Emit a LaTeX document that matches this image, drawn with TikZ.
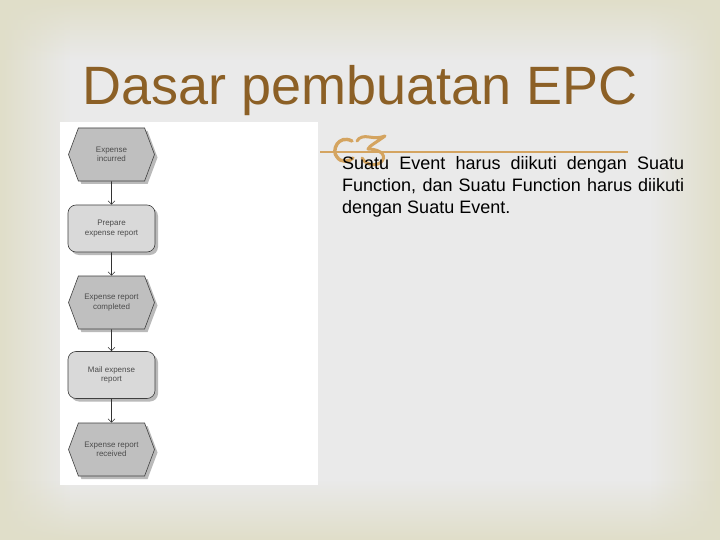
\documentclass[tikz,border=0pt]{standalone}
\usepackage{fontspec}
\setmainfont{Liberation Sans}
\usepackage{xcolor}
\usetikzlibrary{shapes.symbols,shadows,arrows.meta,fadings}
\definecolor{slidebeige}{RGB}{224,222,201}
\definecolor{slidegray}{RGB}{234,234,234}
\definecolor{titlebrown}{RGB}{140,96,38}
\definecolor{ornament}{RGB}{212,164,96}
\tikzfading[name=edgefade, left color=transparent!0, right color=transparent!100]
\tikzset{
  edgeband/.style={fill=slidebeige, path fading=edgefade},
  epcevent/.style={signal, signal to=west and east, signal pointer angle=139,
    draw=black!75, line width=0.6pt, fill=black!25, minimum width=86pt, minimum height=53pt,
    inner sep=0pt, align=center, font=\fontsize{8}{9.5}\selectfont, text=black!70,
    drop shadow={shadow xshift=3pt, shadow yshift=-3pt, fill=black!45, opacity=0.6}},
  epcfunc/.style={rectangle, rounded corners=8pt,
    draw=black!75, line width=0.6pt, fill=black!15, minimum width=87pt, minimum height=47pt,
    inner sep=0pt, align=center, font=\fontsize{8}{9.5}\selectfont, text=black!70,
    drop shadow={shadow xshift=3pt, shadow yshift=-3pt, fill=black!45, opacity=0.6}},
  flow/.style={draw=black!80, line width=0.6pt, -{Straight Barb[length=3.5pt,width=7pt]}}
}
\begin{document}
\begin{tikzpicture}[x=1pt,y=-1pt]
\useasboundingbox (0,0) rectangle (720,540);
% slide background
\fill[slidegray] (0,0) rectangle (720,540);
\fill[edgeband] (0,0) rectangle (70,540);
\fill[edgeband, fading angle=180] (650,0) rectangle (720,540);
\fill[edgeband, fading angle=-90] (0,0) rectangle (720,60);
\fill[edgeband, fading angle=90] (0,480) rectangle (720,540);

% title
\node[anchor=base west, inner sep=0pt, text=titlebrown, font=\fontsize{54}{62}\selectfont] (title) at (82,105) {Dasar pembuatan EPC};

% ornament and rule
\draw[ornament, line width=1.5pt] (320,152) -- (628,152);
\draw[ornament, line width=3.4pt, line cap=round]
  (352,141) .. controls (338,134) and (331,151) .. (337,157)
            .. controls (341,163) and (349,162) .. (353,158);
\draw[ornament, line width=3pt, line cap=round, line join=round]
  (357,141) .. controls (359,137) and (364,136) .. (369,137)
            .. controls (375,138) and (380,138) .. (385,136)
            .. controls (377,142) and (369,146) .. (368,149)
            .. controls (382,149) and (388,157) .. (380,163)
            .. controls (373,167) and (364,163) .. (362,158);

% body text
\node[anchor=north west, inner sep=0pt, text width=342pt, align=justify,
  font=\fontsize{18}{22}\selectfont] (rule) at (342,156)
  {Suatu Event harus diikuti dengan Suatu Function, dan Suatu Function harus diikuti dengan Suatu Event.};

% EPC picture
\fill[white] (60,122) rectangle (318,485);
\node[epcevent] (incurred) at (111.5,154.5) {Expense\\incurred};
\node[epcfunc] (prepare) at (111.5,228.5) {Prepare\\expense report};
\node[epcevent] (completed) at (111.5,302.5) {Expense report\\completed};
\node[epcfunc] (mail) at (111.5,375) {Mail expense\\report};
\node[epcevent] (received) at (111.5,449.5) {Expense report\\received};

\draw[flow] (incurred) -- (prepare);
\draw[flow] (prepare) -- (completed);
\draw[flow] (completed) -- (mail);
\draw[flow] (mail) -- (received);
\end{tikzpicture}
\end{document}
